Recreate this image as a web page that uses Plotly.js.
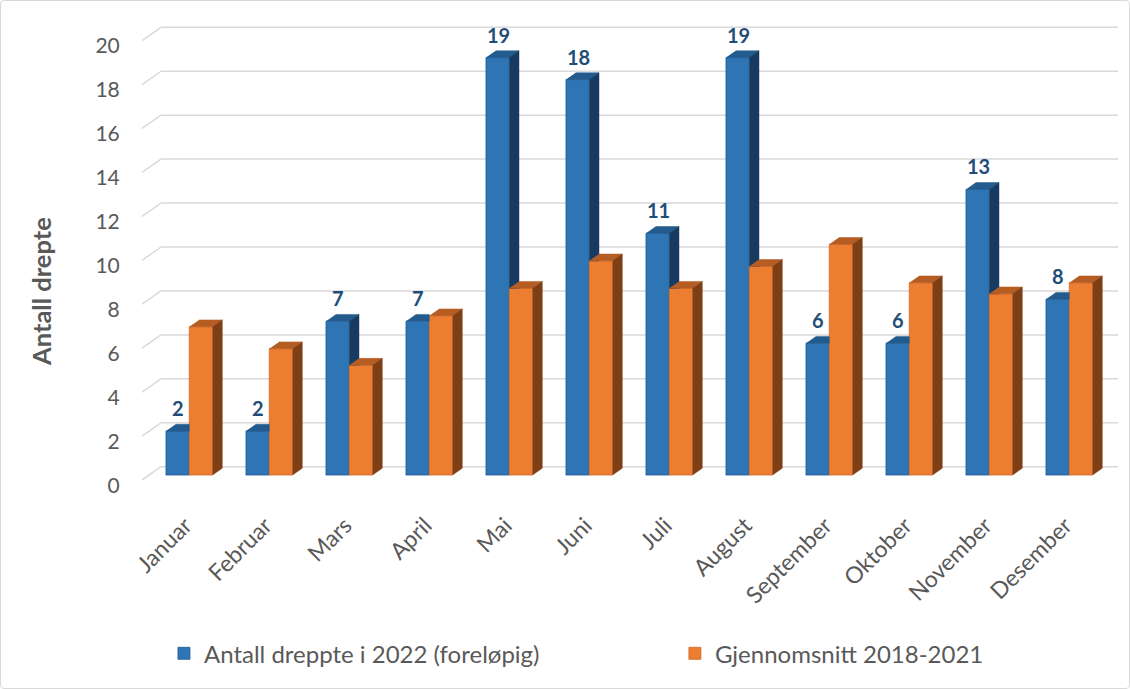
<!DOCTYPE html>
<html><head><meta charset="utf-8">
<script src="https://cdn.plot.ly/plotly-3.0.1.min.js"></script>
<style>
html,body{margin:0;padding:0;background:#fff}
#chart{width:1130px;height:689px;position:absolute;left:0;top:0}
#frame{position:absolute;left:0;top:0;width:1130px;height:689px;box-sizing:border-box;border:1px solid #d9d9d9;border-radius:4px;pointer-events:none}
</style>
</head><body><div id="chart"></div><div id="frame"></div>
<script>
// ---- data ----
const months = ['Januar','Februar','Mars','April','Mai','Juni','Juli','August','September','Oktober','November','Desember'];
const killed2022 = [2, 2, 7, 7, 19, 18, 11, 19, 6, 6, 13, 8];
const average2018_2021 = [6.75, 5.75, 5, 7.25, 8.5, 9.75, 8.5, 9.5, 10.5, 8.75, 8.25, 8.75];
const yTicks = [0, 2, 4, 6, 8, 10, 12, 14, 16, 18, 20];
const seriesNames = ['Antall dreppte i 2022 (foreløpig)', 'Gjennomsnitt 2018-2021'];
const yTitle = 'Antall drepte';

// ---- geometry (pixel sizes expressed in axis units) ----
const PX_X = 80, PX_Y = 21.97;
const BW = 23.3 / PX_X;           // bar width
const DX = 9.7 / PX_X;            // depth, horizontal
const DY = 6.8 / PX_Y;            // depth, vertical
const X_LEFT = -0.591, X_WALL = -0.354, X_RIGHT = 11.609;
const GRID_FRONT = -0.228, GRID_BACK = 0.378, LABEL_OFF = -0.478;
const idx = months.map((m, i) => i);

const blue = '#2e75b6', blueTop = '#245b8f', blueSide = '#173b60';
const orange = '#ed7d31', orangeTop = '#b65d24', orangeSide = '#7f3f16';

function poly(list) {
  const x = [], y = [];
  list.forEach(p => { p.forEach(c => { x.push(c[0]); y.push(c[1]); }); x.push(null); y.push(null); });
  return {x, y};
}
const bTop = [], bSide = [], oTop = [], oSide = [];
idx.forEach(i => {
  const v = killed2022[i], o = average2018_2021[i], b = i;
  if (v > o) {
    bTop.push([[b - BW, v], [b, v], [b + DX, v + DY], [b - BW + DX, v + DY]]);
    bSide.push([[b, o], [b + DX, o], [b + DX, v + DY], [b, v]]);
  } else {
    bTop.push([[b - BW, v], [b, v], [b, v + DY], [b - BW + DX, v + DY]]);
  }
  oTop.push([[b, o], [b + BW, o], [b + BW + DX, o + DY], [b + DX, o + DY]]);
  oSide.push([[b + BW, 0], [b + BW + DX, DY], [b + BW + DX, o + DY], [b + BW, o]]);
});
function face(list, color) {
  const p = poly(list);
  return {type: 'scatter', mode: 'lines', x: p.x, y: p.y, fill: 'toself', fillcolor: color,
          line: {width: 0.5, color: color}, hoverinfo: 'skip', showlegend: false};
}

const traces = [
  {type: 'bar', name: seriesNames[0], x: idx, y: killed2022, offset: -BW, width: BW, legend: 'legend',
   marker: {color: blue, line: {color: '#1f5a92', width: 0.8}}, hoverinfo: 'y'},
  {type: 'bar', name: seriesNames[1], x: idx, y: average2018_2021, offset: 0, width: BW, legend: 'legend2',
   marker: {color: orange, line: {color: '#d06a24', width: 0.8}}, hoverinfo: 'y'},
  face(bTop, blueTop), face(bSide, blueSide), face(oTop, orangeTop), face(oSide, orangeSide)
];

const shapes = [];
yTicks.forEach(t => {
  shapes.push({type: 'line', xref: 'x', yref: 'y', layer: 'below', x0: X_LEFT, y0: t + GRID_FRONT, x1: X_WALL, y1: t + GRID_BACK, line: {color: '#d9d9d9', width: 1.5}});
  shapes.push({type: 'line', xref: 'x', yref: 'y', layer: 'below', x0: X_WALL, y0: t + GRID_BACK, x1: X_RIGHT, y1: t + GRID_BACK, line: {color: '#d9d9d9', width: 1.5}});
});

const annotations = idx.map(i => ({
  x: i - BW / 2 + 0.01, y: killed2022[i], xref: 'x', yref: 'y', text: String(killed2022[i]),
  showarrow: false, yanchor: 'bottom', yshift: 9,
  font: {family: 'Lato, sans-serif', size: 20, color: '#1f4e79', weight: 'bold'}
}));
annotations.push({
  xref: 'paper', yref: 'paper', x: -0.1035, y: 0.424, xanchor: 'center', yanchor: 'middle',
  text: '<b>' + yTitle + '</b>', textangle: -90,
  showarrow: false, font: {family: 'Lato, sans-serif', size: 25.5, color: '#595959'}
});

const legendBase = {orientation: 'h', xanchor: 'left', y: -0.3646, yanchor: 'middle',
                    font: {family: 'Lato, sans-serif', size: 24, color: '#595959'}, itemwidth: 30,
                    bgcolor: 'rgba(0,0,0,0)'};

const layout = {
  width: 1130, height: 689,
  margin: {l: 142, r: 12, t: 26, b: 203},
  paper_bgcolor: '#fff', plot_bgcolor: '#fff',
  barmode: 'overlay',
  font: {family: 'Lato, sans-serif', color: '#595959', size: 20},
  xaxis: {range: [X_LEFT, X_RIGHT], tickvals: idx, ticktext: months, tickangle: -45,
          showgrid: false, zeroline: false, showline: false, ticks: 'outside', ticklen: 16,
          ticklabelshift: -4, tickcolor: 'rgba(0,0,0,0)', tickfont: {size: 23, color: '#595959'}},
  yaxis: {range: [-0.5, 20.437], tickvals: yTicks.map(t => t + LABEL_OFF), ticktext: yTicks.map(String),
          showgrid: false, zeroline: false, showline: false, ticks: 'outside', ticklen: 17,
          tickcolor: 'rgba(0,0,0,0)', tickfont: {size: 21, color: '#595959'}},
  legend: Object.assign({x: 0.0225}, legendBase),
  legend2: Object.assign({x: 0.546}, legendBase),
  shapes: shapes,
  annotations: annotations,
  showlegend: true
};

Plotly.newPlot('chart', traces, layout, {displayModeBar: false, staticPlot: true});
</script>
</body></html>
